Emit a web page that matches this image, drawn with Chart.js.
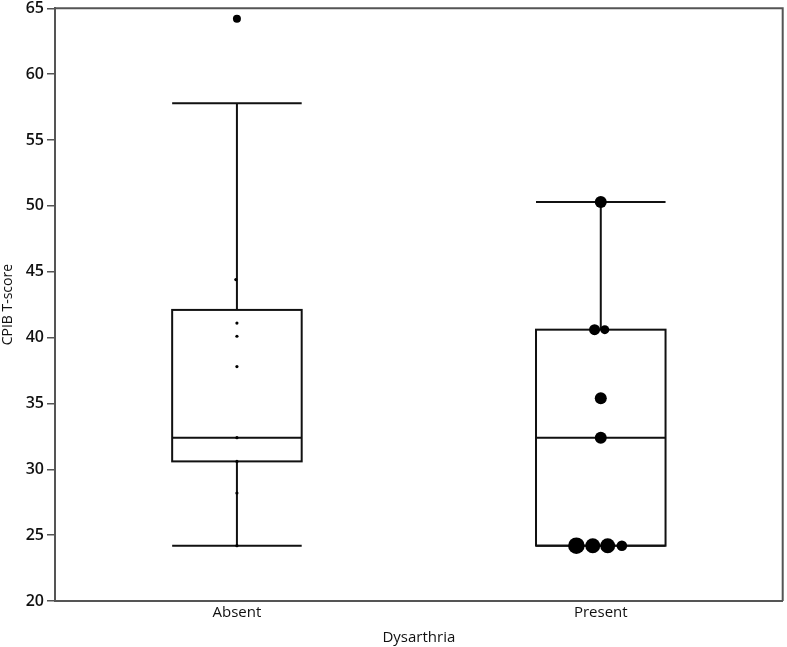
<!DOCTYPE html>
<html>
<head>
<meta charset="utf-8">
<script src="https://cdn.jsdelivr.net/npm/chart.js@4/dist/chart.umd.min.js"></script>
<style>
  html, body { margin: 0; padding: 0; background: #fff; overflow: hidden; }
  #wrap { width: 791px; height: 647px; }
</style>
</head>
<body>
<div id="wrap"><canvas id="boxChart"></canvas></div>
<script>
// Categories and box statistics
const categories = ['Absent', 'Present'];
const whiskerLow = [24.2, 24.2];
const q1 = [30.6, 24.2];
const medians = [32.4, 32.4];
const q3 = [42.1, 40.6];
const whiskerHigh = [57.8, 50.3];

// Individual observations (value, horizontal jitter, marker radius)
const absentValues = [64.2, 44.4, 41.1, 40.1, 37.8, 32.4, 30.6, 28.2, 24.2];
const absentJitter = [0, -0.003, 0, 0, 0, 0, 0, 0, 0];
const absentRadius = [4, 1.6, 1.6, 1.6, 1.6, 1.6, 1.6, 1.6, 1.6];

const presentValues = [50.3, 40.6, 40.6, 35.4, 32.4, 24.2, 24.2, 24.2, 24.2];
const presentJitter = [0, -0.017, 0.011, 0, 0, -0.067, -0.022, 0.019, 0.058];
const presentRadius = [6, 5.5, 4.5, 6, 6, 8.3, 7.5, 7.5, 5.3];

const yTicks = [20, 25, 30, 35, 40, 45, 50, 55, 60, 65];
const BOX_HALF = 0.178;

// draws boxes + whiskers + frame using the chart scales
const boxPlotPlugin = {
    id: 'boxPlot',
    beforeDatasetsDraw(chart) {
        const { ctx, scales: { x, y }, chartArea } = chart;
        ctx.save();
        ctx.strokeStyle = '#111';
        ctx.lineWidth = 2;
        categories.forEach((c, i) => {
            const left = x.getPixelForValue(i - BOX_HALF);
            const right = x.getPixelForValue(i + BOX_HALF);
            const mid = x.getPixelForValue(i);
            const yq1 = y.getPixelForValue(q1[i]);
            const yq3 = y.getPixelForValue(q3[i]);
            const ymed = y.getPixelForValue(medians[i]);
            const ylo = y.getPixelForValue(whiskerLow[i]);
            const yhi = y.getPixelForValue(whiskerHigh[i]);
            ctx.strokeRect(left, yq3, right - left, yq1 - yq3);
            ctx.beginPath();
            ctx.moveTo(left, ymed); ctx.lineTo(right, ymed);
            // whiskers
            ctx.moveTo(mid, yq3); ctx.lineTo(mid, yhi);
            ctx.moveTo(mid, yq1); ctx.lineTo(mid, ylo);
            ctx.moveTo(left, yhi); ctx.lineTo(right, yhi);
            ctx.moveTo(left, ylo); ctx.lineTo(right, ylo);
            ctx.stroke();
        });
        // frame top/right
        ctx.strokeStyle = '#555';
        ctx.beginPath();
        ctx.moveTo(chartArea.left, chartArea.top);
        ctx.lineTo(chartArea.right, chartArea.top);
        ctx.lineTo(chartArea.right, chartArea.bottom);
        ctx.stroke();
        ctx.restore();
    }
};

new Chart(document.getElementById('boxChart'), {
    type: 'scatter',
    data: {
        datasets: [
            {
                label: categories[0],
                data: absentValues.map((v, i) => ({ x: 0 + absentJitter[i], y: v })),
                pointRadius: absentRadius,
                backgroundColor: '#000',
                borderWidth: 0
            },
            {
                label: categories[1],
                data: presentValues.map((v, i) => ({ x: 1 + presentJitter[i], y: v })),
                pointRadius: presentRadius,
                backgroundColor: '#000',
                borderWidth: 0
            }
        ]
    },
    options: {
        responsive: true,
        maintainAspectRatio: false,
        animation: false,
        layout: { padding: { top: 7, right: 0, left: 0, bottom: 0 } },
        plugins: { legend: { display: false }, tooltip: { enabled: false } },
        scales: {
            x: {
                type: 'linear',
                min: -0.5,
                max: 1.5,
                afterBuildTicks: (scale) => { scale.ticks = categories.map((c, i) => ({ value: i })); },
                afterFit: (scale) => { scale.height = 46; scale.paddingLeft = 0; scale.paddingRight = 0; },
                grid: { display: false, drawTicks: false },
                border: { display: true, color: '#555', width: 2 },
                ticks: {
                    padding: 3,
                    color: '#111',
                    font: { family: 'Open Sans', size: 15 },
                    callback: (v) => categories[v] ?? ''
                },
                title: {
                    display: true,
                    text: 'Dysarthria',
                    color: '#111',
                    font: { family: 'Open Sans', size: 15 },
                    padding: { top: 0, bottom: 0 }
                }
            },
            y: {
                min: 20,
                max: 65,
                afterBuildTicks: (scale) => { scale.ticks = yTicks.map(v => ({ value: v })); },
                afterFit: (scale) => { scale.width = 55; scale.paddingTop = 0; scale.paddingBottom = 0; },
                grid: { drawOnChartArea: false, drawTicks: true, tickLength: 8, color: '#555', lineWidth: 1.5 },
                border: { display: true, color: '#555', width: 2 },
                ticks: {
                    padding: 3,
                    color: '#111',
                    font: { family: 'Open Sans', size: 16, weight: '600' }
                },
                title: {
                    display: true,
                    text: 'CPIB T-score',
                    color: '#111',
                    font: { family: 'Open Sans', size: 14 },
                    padding: { top: 0, bottom: 0 }
                }
            }
        }
    },
    plugins: [boxPlotPlugin]
});
</script>
</body>
</html>
